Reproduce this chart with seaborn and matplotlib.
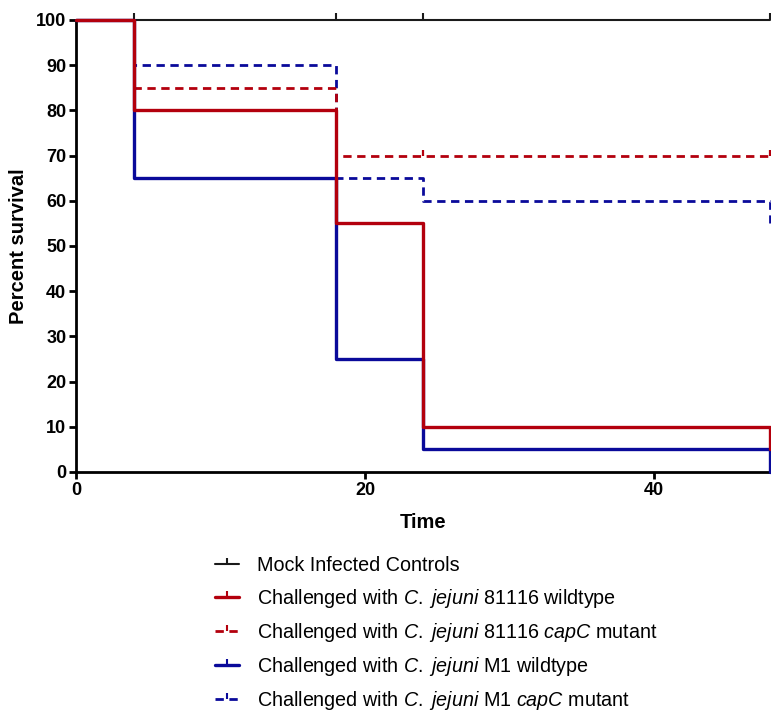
import numpy as np
import pandas as pd
import seaborn as sns
import matplotlib.pyplot as plt
from matplotlib.lines import Line2D
from matplotlib.path import Path

sns.set_style("ticks")
plt.rcParams['font.family'] = ['Liberation Sans']
plt.rcParams['mathtext.fontset'] = 'custom'
plt.rcParams['mathtext.rm'] = 'Liberation Sans'
plt.rcParams['mathtext.it'] = 'Liberation Sans:italic'
plt.rcParams['text.color'] = 'black'
plt.rcParams['axes.labelcolor'] = 'black'
plt.rcParams['xtick.color'] = 'black'
plt.rcParams['ytick.color'] = 'black'
plt.rcParams['axes.edgecolor'] = 'black'

time = [0, 4, 18, 24, 48]
mock = [100, 100, 100, 100, 100]
wt_81116 = [100, 80, 55, 10, 5]
capc_81116 = [100, 85, 70, 70, 70]
wt_m1 = [100, 65, 25, 5, 0]
capc_m1 = [100, 90, 65, 60, 55]

mock_censor_t = [4, 18, 24, 48]
capc_81116_censor_t = [24, 48]

labels = ["Mock Infected Controls",
          r"Challenged with $\it{C.}$ $\it{jejuni}$ 81116 wildtype",
          r"Challenged with $\it{C.}$ $\it{jejuni}$ 81116 $\it{capC}$ mutant",
          r"Challenged with $\it{C.}$ $\it{jejuni}$ M1 wildtype",
          r"Challenged with $\it{C.}$ $\it{jejuni}$ M1 $\it{capC}$ mutant"]
keys = ["mock", "wt81116", "capc81116", "wtm1", "capcm1"]
series = [mock, wt_81116, capc_81116, wt_m1, capc_m1]

red = "#B3000D"
blue = "#0A0A9A"
colors = {"mock": "#1a1a1a", "wt81116": red, "capc81116": red, "wtm1": blue, "capcm1": blue}
dashes = {"mock": "", "wt81116": "", "capc81116": (3, 2), "wtm1": "", "capcm1": (3, 2)}
widths = {"mock": 1.5, "wt81116": 2.4, "capc81116": 2.0, "wtm1": 2.4, "capcm1": 2.0}

df = pd.concat([pd.DataFrame({"time": time, "survival": s, "group": k})
                for k, s in zip(keys, series)], ignore_index=True)

fig = plt.figure(figsize=(7.71, 7.16), dpi=100)
ax = fig.add_axes([0.0986, 0.3408, 0.9, 0.6313])

# mock first so the infected curves sit on top of it
draw_order = ["mock", "capcm1", "capc81116", "wtm1", "wt81116"]
for k in draw_order:
    sns.lineplot(data=df[df.group == k], x="time", y="survival", color=colors[k],
                 drawstyle="steps-post", estimator=None, sort=False, ax=ax,
                 linewidth=widths[k], legend=False, clip_on=False, zorder=3)
    ax.lines[-1].set_linestyle("-" if not dashes[k] else (0, dashes[k]))

# censor marks: short upward ticks
tick = Path([(0, 0), (0, 1)], [Path.MOVETO, Path.LINETO])
ax.plot(mock_censor_t, [100] * len(mock_censor_t), ls="none", marker=tick, ms=10,
        mew=1.5, color=colors["mock"], clip_on=False, zorder=2)
ax.plot(capc_81116_censor_t, [70] * len(capc_81116_censor_t), ls="none", marker=tick,
        ms=8, mew=1.6, color=red, clip_on=False, zorder=2)

ax.set_xlim(0, 48)
ax.set_ylim(0, 100)
ax.set_xticks([0, 20, 40])
ax.set_yticks(range(0, 101, 10))
sns.despine(ax=ax)
for s in ["left", "bottom"]:
    ax.spines[s].set_linewidth(2.0)
ax.tick_params(width=2.0, length=5, labelsize=13, pad=2)
for lab in ax.get_xticklabels() + ax.get_yticklabels():
    lab.set_fontweight("bold")
ax.set_xlabel("Time", fontsize=14.5, fontweight="bold", labelpad=10)
ax.set_ylabel("Percent survival", fontsize=14.5, fontweight="bold", labelpad=6)

handles = []
for k in keys:
    ls = "-" if not dashes[k] else (0, dashes[k])
    handles.append(Line2D([], [], color=colors[k], lw=widths[k], ls=ls, marker=tick,
                          ms=8, mew=1.5))
fig.legend(handles, labels, loc="upper left", bbox_to_anchor=(0.2685, 0.234),
           frameon=False, fontsize=14.2, handlelength=1.2, handletextpad=0.95,
           labelspacing=0.57, numpoints=1, borderaxespad=0)

fig.savefig("out.png", dpi=100)
